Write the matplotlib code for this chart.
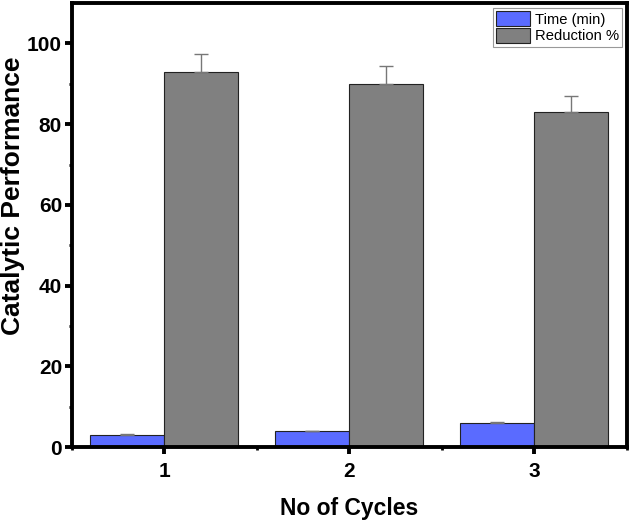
import matplotlib.pyplot as plt
import numpy as np

plt.rcParams['font.family'] = ['Liberation Sans', 'DejaVu Sans']

cycles = [1, 2, 3]
time_min = [3.0, 4.0, 6.0]
time_err = [0.3, 0.0, 0.3]
reduction = [93, 90, 83]
reduction_err = [4.5, 4.5, 4.0]

x = np.array(cycles)
w = 0.4
zeros = [0, 0, 0]

fig = plt.figure(figsize=(6.3, 5.21), dpi=100)
ax = fig.add_axes([0.114, 0.142, 0.881, 0.852])

ax.bar(x - w / 2, time_min, w, color='#5a6bff', edgecolor='#222222', linewidth=0.8,
       label='Time (min)', yerr=[zeros, time_err], ecolor='#777777',
       error_kw=dict(capsize=5, elinewidth=1, capthick=1))
ax.bar(x + w / 2, reduction, w, color='#808080', edgecolor='#222222', linewidth=0.8,
       label='Reduction %', yerr=[zeros, reduction_err], ecolor='#777777',
       error_kw=dict(capsize=5, elinewidth=1, capthick=1))

ax.set_xlim(0.5, 3.5)
ax.set_ylim(0, 110)
ax.set_xticks(cycles)
ax.set_xticks([0.5, 1.5, 2.5, 3.5], minor=True)
ax.set_yticks([0, 20, 40, 60, 80, 100])
ax.set_yticks([10, 30, 50, 70, 90], minor=True)

for s in ax.spines.values():
    s.set_linewidth(2.8)

ax.tick_params(which='major', direction='out', length=5, width=2.8, labelsize=15)
ax.tick_params(axis='x', which='major', pad=6)
ax.tick_params(axis='y', which='major', pad=2)
ax.tick_params(which='minor', direction='out', length=2.5, width=2)
for lab in ax.get_xticklabels() + ax.get_yticklabels():
    lab.set_fontweight('bold')

# axis titles placed in figure coords to match the reference layout
fig.text(349 / 630, 1 - 508 / 521, 'No of Cycles', fontsize=16.5, fontweight='bold',
         ha='center', va='center')
fig.text(13 / 630, 1 - 196 / 521, 'Catalytic Performance', fontsize=19, fontweight='bold',
         rotation=90, ha='center', va='center')

leg = ax.legend(loc='upper right', fontsize=10.6, fancybox=False, framealpha=1,
                edgecolor='#999999', handlelength=2.3, handleheight=1.15,
                borderpad=0.25, labelspacing=0.1, handletextpad=0.3,
                borderaxespad=0.3)
leg.get_frame().set_linewidth(0.8)

fig.savefig('out.png', dpi=100)
